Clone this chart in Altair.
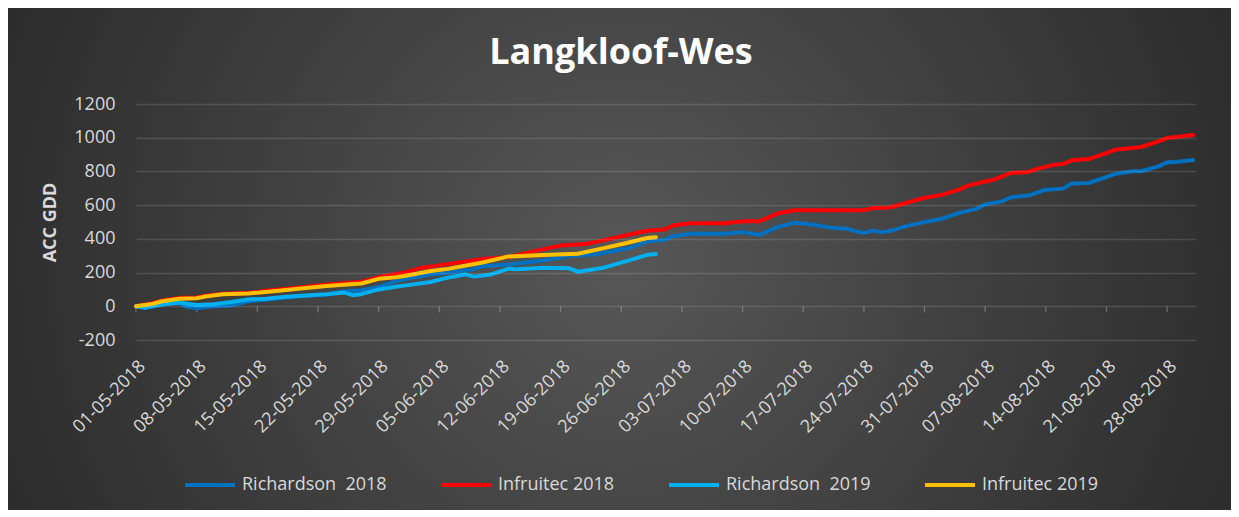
import altair as alt
import pandas as pd
from datetime import date, timedelta

START = date(2018, 5, 1)

series_names = ["Richardson\u00a0 2018", "Infruitec 2018", "Richardson\u00a0 2019", "Infruitec 2019"]
series_colors = ["#0070C0", "#FF0000", "#00B0F0", "#FFC000"]

# day offsets from 01-05-2018 and accumulated GDD
rich18_day = [0, 1, 3, 5, 6, 7, 9, 11, 13, 15, 17, 19, 22, 24, 26, 28, 30, 31, 34, 36, 39, 40, 43, 47, 50, 53,
              55, 57, 59, 61, 62, 64, 68, 70, 72, 74, 76, 78, 80, 82, 84, 85, 86, 87, 89, 91, 93, 95, 97, 98,
              100, 101, 103, 105, 107, 108, 110, 112, 113, 115, 116, 118, 119, 120, 122]
rich18_val = [0, -12, 10, 20, -5, -12, 0, 5, 30, 38, 50, 60, 70, 88, 95, 115, 148, 160, 189, 199, 220, 238, 248,
              272, 298, 308, 327, 347, 385, 394, 416, 430, 430, 440, 424, 470, 495, 485, 468, 460, 434, 449, 440,
              446, 477, 499, 519, 554, 578, 604, 623, 647, 657, 692, 698, 728, 732, 767, 785, 801, 801, 830, 854,
              856, 868]

infr18_day = [0, 2, 3, 5, 7, 8, 10, 13, 15, 19, 22, 26, 28, 30, 31, 33, 36, 40, 43, 46, 49, 52, 54, 57, 59, 61,
              62, 64, 68, 70, 72, 74, 76, 84, 85, 87, 90, 91, 93, 95, 96, 98, 99, 101, 103, 104, 106, 107, 108,
              110, 112, 113, 115, 116, 118, 119, 120, 122]
infr18_val = [0, 20, 35, 50, 52, 62, 75, 80, 92, 113, 130, 145, 172, 192, 200, 229, 250, 280, 292, 327, 360, 370,
              392, 426, 448, 456, 479, 493, 493, 505, 505, 550, 570, 570, 582, 586, 629, 643, 661, 692, 716, 740,
              751, 791, 797, 815, 840, 844, 866, 874, 909, 929, 939, 945, 978, 998, 1004, 1016]

rich19_day = [0, 1, 3, 5, 7, 9, 11, 13, 15, 17, 19, 22, 24, 25, 26, 28, 30, 32, 34, 36, 38, 39, 41, 43, 44, 47,
              50, 51, 54, 57, 59, 60]
rich19_val = [0, -8, 12, 22, 8, 12, 25, 41, 45, 55, 62, 72, 82, 66, 72, 100, 116, 130, 144, 170, 189, 176, 189,
              223, 219, 229, 225, 205, 229, 274, 305, 310]

infr19_day = [0, 2, 3, 5, 7, 8, 10, 13, 15, 19, 22, 26, 28, 30, 31, 34, 36, 40, 43, 47, 51, 54, 57, 59, 60]
infr19_val = [0, 15, 30, 45, 48, 58, 72, 76, 85, 105, 120, 135, 163, 172, 180, 209, 222, 260, 296, 304, 312,
              345, 380, 405, 410]

tick_labels = ["01-05-2018", "08-05-2018", "15-05-2018", "22-05-2018", "29-05-2018", "05-06-2018",
               "12-06-2018", "19-06-2018", "26-06-2018", "03-07-2018", "10-07-2018", "17-07-2018",
               "24-07-2018", "31-07-2018", "07-08-2018", "14-08-2018", "21-08-2018", "28-08-2018"]
y_ticks = [-200, 0, 200, 400, 600, 800, 1000, 1200]


def iso(d):
    return (START + timedelta(days=d)).isoformat() + "T00:00:00"


rows = []
for name, days, vals in zip(series_names,
                            [rich18_day, infr18_day, rich19_day, infr19_day],
                            [rich18_val, infr18_val, rich19_val, infr19_val]):
    for d, v in zip(days, vals):
        rows.append({"series": name, "date": iso(d), "value": v})
df = pd.DataFrame(rows)


def to_dt(lbl):
    dd, mm, yy = (int(p) for p in lbl.split("-"))
    return alt.DateTime(year=yy, month=mm, date=dd)


tick_dates = [to_dt(l) for l in tick_labels]
tick_df = pd.DataFrame({"date": [f"{l[6:]}-{l[3:5]}-{l[0:2]}T00:00:00" for l in tick_labels],
                        "value": [0] * len(tick_labels)})

W, H = 1060, 236
PAD = {"left": 128, "top": 96, "right": 35, "bottom": 170}
FONT = "Open Sans"
LBL = "#d9d9d9"
BG_TOP, BG_BOTTOM = 155 - 700, 155 + 700

grad = {
    "gradient": "radial",
    "x1": 0.5, "y1": 0.5, "r1": 0,
    "x2": 0.5, "y2": 0.5, "r2": 0.6,
    "stops": [{"offset": 0, "color": "#575757"}, {"offset": 1, "color": "#202020"}],
}

bg = alt.Chart(pd.DataFrame({"k": [0]})).mark_rect(fill=grad, clip=False).encode(
    x=alt.value(-PAD["left"]), x2=alt.value(W + PAD["right"]),
    y=alt.value(BG_TOP), y2=alt.value(BG_BOTTOM),
)

xscale = alt.Scale(domain=[alt.DateTime(year=2018, month=5, date=1),
                           alt.DateTime(year=2018, month=8, date=31, hours=8)])
yscale = alt.Scale(domain=[-200, 1200], nice=False)

xaxis = alt.Axis(values=tick_dates, format="%d-%m-%Y", labelAngle=315, labelFontSize=18,
                 labelColor=LBL, labelFont=FONT, ticks=False, domain=False, grid=False,
                 labelPadding=17, labelOverlap=False, labelBound=False, labelFlush=False, zindex=1)
yaxis = alt.Axis(values=y_ticks, labelFontSize=18, labelColor=LBL, labelFont=FONT,
                 labelExpr="datum.value < 0 ? '-' + abs(datum.value) : '' + datum.value",
                 labelOverlap=False, labelBound=False, labelFlush=False,
                 ticks=False, domain=False, grid=True, gridColor="#ffffff", gridOpacity=0.13,
                 gridWidth=1.3, labelPadding=21, titleFontSize=18, titleFont=FONT,
                 titleFontWeight="bold", titleColor=LBL, titleAngle=270, titleX=-86, titleY=118,
                 titleAlign="center", titleBaseline="middle", zindex=1)

X = alt.X("date:T", scale=xscale, title=None, axis=xaxis)
Y = alt.Y("value:Q", scale=yscale, title="ACC GDD", axis=yaxis)

lines = alt.Chart(df).mark_line(strokeWidth=4, strokeCap="round", strokeJoin="round").encode(
    x=X, y=Y,
    color=alt.Color("series:N", scale=alt.Scale(domain=series_names, range=series_colors),
                    legend=alt.Legend(orient="none", legendX=47, legendY=354, direction="horizontal",
                                      title=None, symbolType="stroke", symbolSize=2500,
                                      symbolStrokeWidth=4, labelFontSize=18, labelColor=LBL,
                                      labelFont=FONT, columnPadding=46, labelOffset=5, labelLimit=400,
                                      zindex=1)),
)

ticks = alt.Chart(tick_df).mark_tick(orient="vertical", size=6, thickness=1.3, color="#ffffff",
                                     opacity=0.25, yOffset=3).encode(x=X, y=Y)

chart = alt.layer(bg, ticks, lines).properties(
    width=W, height=H,
    autosize=alt.AutoSizeParams(type="none"),
    padding=PAD,
    background="#333333",
    title=alt.Title("Langkloof-Wes", fontSize=36, fontWeight="bold", color="#ffffff", anchor="middle",
                    offset=0, baseline="alphabetic", dx=-45, dy=-BG_TOP - 4, font=FONT, zindex=1),
).configure_view(stroke=None, fill=None)

chart.save("out.html", embed_options={"renderer": "svg", "actions": False})
